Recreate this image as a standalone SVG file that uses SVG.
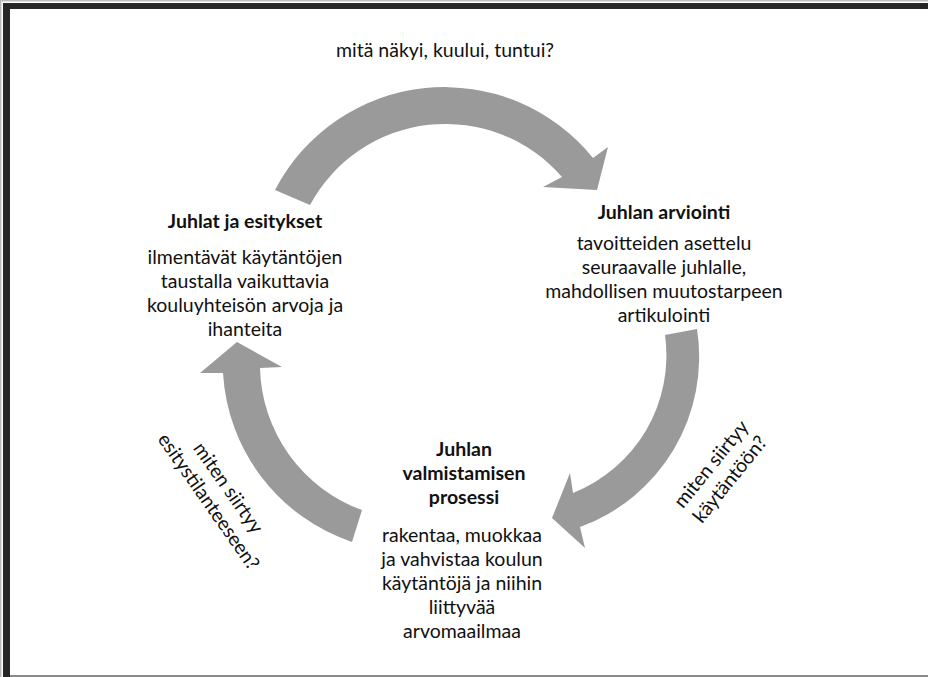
<svg xmlns="http://www.w3.org/2000/svg" width="928" height="677" viewBox="0 0 928 677">
<style>
text{font-family:Lato,"Liberation Sans",sans-serif;fill:#111;text-anchor:middle}
.t{font-size:19.5px}
.b{font-size:19.5px;font-weight:bold}
.arr{fill:#9a9a9a;stroke:none}
.frame{fill:#262626}
</style>
<rect width="928" height="677" fill="#fff"/>
<g id="frame">
<rect x="0" y="0" width="928" height="1.5" fill="#bbb"/>
<rect x="0" y="0" width="1.5" height="677" fill="#bbb"/>
<rect class="frame" x="3" y="3" width="925" height="6"/>
<rect class="frame" x="3" y="3" width="7" height="674"/>
<rect x="10" y="675" width="918" height="2" fill="#8a8a8a"/>
</g>
<g id="connectors">
<path id="arrow-top" class="arr" d="M275,190 A191,191 0 0 1 593,158 L608,147 L597,190 L543,187 L562,177 A154,154 0 0 0 310,205 Z"/>
<path id="arrow-right" class="arr" d="M697,329 A181,181 0 0 1 580,527 L585,548 L552,518 L570,473 L573,493 A148,148 0 0 0 665,335 Z"/>
<path id="arrow-left" class="arr" d="M352,542 A190,190 0 0 1 223,373 L200,373 L237,342 L282,367 L260,368 A155,155 0 0 0 362,510 Z"/>
<text class="t" x="445" y="57">mitä näkyi, kuului, tuntui?</text>
<g transform="translate(721,472) rotate(-51)">
<text class="t" x="0" y="-6">miten siirtyy</text>
<text class="t" x="0" y="18">käytäntöön?</text>
</g>
<g transform="translate(218,495) rotate(55)">
<text class="t" x="0" y="-6">miten siirtyy</text>
<text class="t" x="0" y="18">esitystilanteeseen?</text>
</g>
</g>
<g id="node-juhlat">
<text class="b" x="245" y="228">Juhlat ja esitykset</text>
<text class="t" x="245" y="264">ilmentävät käytäntöjen</text>
<text class="t" x="245" y="288">taustalla vaikuttavia</text>
<text class="t" x="245" y="312">kouluyhteisön arvoja ja</text>
<text class="t" x="245" y="336">ihanteita</text>
</g>
<g id="node-arviointi">
<text class="b" x="664" y="219">Juhlan arviointi</text>
<text class="t" x="664" y="250">tavoitteiden asettelu</text>
<text class="t" x="664" y="274">seuraavalle juhlalle,</text>
<text class="t" x="664" y="298">mahdollisen muutostarpeen</text>
<text class="t" x="664" y="322">artikulointi</text>
</g>
<g id="node-valmistus">
<text class="b" x="464" y="456">Juhlan</text>
<text class="b" x="464" y="480">valmistamisen</text>
<text class="b" x="464" y="504">prosessi</text>
<text class="t" x="462" y="542">rakentaa, muokkaa</text>
<text class="t" x="462" y="566">ja vahvistaa koulun</text>
<text class="t" x="462" y="590">käytäntöjä ja niihin</text>
<text class="t" x="462" y="614">liittyvää</text>
<text class="t" x="462" y="638">arvomaailmaa</text>
</g>
</svg>
